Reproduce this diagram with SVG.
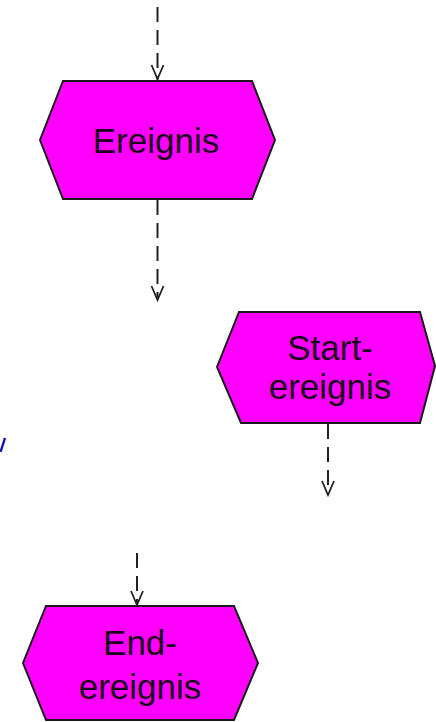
<svg xmlns="http://www.w3.org/2000/svg" width="436" height="722" viewBox="0 0 436 722">
<defs>
<style>
.ev{fill:#ff00ff;stroke:#1a1a1a;stroke-width:2;stroke-linejoin:miter}
.lbl{font-family:"Liberation Sans",Arial,sans-serif;font-size:35px;fill:#1a001a;text-anchor:middle}
.con{fill:none;stroke:#222;stroke-width:2;stroke-dasharray:15 8}
.ah{fill:none;stroke:#222;stroke-width:1.8}
</style>
</defs>
<rect width="436" height="722" fill="#ffffff"/>
<g id="connectors">
<path class="con" d="M157.5,7 V80"/>
<path class="ah" d="M151.5,65 L157.5,79 L163.5,65"/>
<path class="con" d="M157.5,200 V299"/>
<path class="ah" d="M151.5,286 L157.5,300 L163.5,286"/>
<path class="con" d="M328,424 V494"/>
<path class="ah" d="M322,481 L328,495 L334,481"/>
<path class="con" d="M137,553 V605"/>
<path class="ah" d="M131,591 L137,605 L143,591"/>
</g>
<g id="ereignis">
<polygon class="ev" points="63,81 252,81 275,140 252,199 63,199 40,140"/>
<text class="lbl" x="156" y="153">Ereignis</text>
</g>
<g id="startereignis">
<polygon class="ev" points="239,312 420,312 435,366 420,423 241,423 217,367"/>
<text class="lbl" x="330" y="360">Start-</text>
<text class="lbl" x="330" y="399">ereignis</text>
</g>
<g id="endereignis">
<polygon class="ev" points="46,606 234,606 258,663 234,720 46,720 23,663"/>
<text class="lbl" x="140" y="655">End-</text>
<text class="lbl" x="140" y="699">ereignis</text>
</g>
<path d="M5,438 L0.5,452" stroke="#1010b0" stroke-width="2.4" fill="none"/>
</svg>
